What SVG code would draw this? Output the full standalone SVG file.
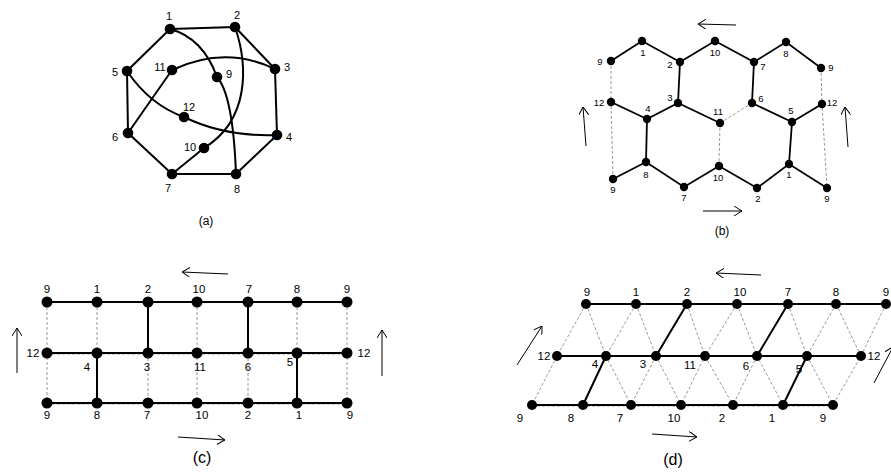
<svg xmlns="http://www.w3.org/2000/svg" width="891" height="472" viewBox="0 0 891 472">
<style>
.e{stroke:#000;stroke-width:2;fill:none;stroke-linecap:round}
.eb{stroke:#000;stroke-width:1.8;fill:none;stroke-linecap:round}
.d{stroke:#9a9a9a;stroke-width:1;fill:none;stroke-dasharray:3,2}
.ar{stroke:#000;stroke-width:1;fill:none;marker-end:url(#ah)}
circle{fill:#000}
text{font-family:"Liberation Sans",Arial,sans-serif;fill:#000;text-anchor:middle}
.ta{font-size:11px}
.tb{font-size:9.5px}
.tc{font-size:11.5px}
.cap{font-size:12px}
.cap2{font-size:16px}
</style>
<defs>
<marker id="ah" viewBox="0 0 8 10" refX="8" refY="5" markerWidth="8" markerHeight="10" markerUnits="userSpaceOnUse" orient="auto">
<path d="M0,0 L8,5 L0,10" fill="none" stroke="#000" stroke-width="1"/>
</marker>
</defs>
<rect width="891" height="472" fill="#fff"/>

<!-- ===== Panel (a) ===== -->
<g id="a-edges">
<path class="e" d="M170,29 L235,27 L275,69 L277,135 L236,174 L172,174 L128,133 L127,71 Z"/>
<path class="e" d="M170,29 Q203,38 217,77"/>
<path class="e" d="M217,77 Q233,95 236,174"/>
<path class="e" d="M235,27 C248,65 250,120 204,148"/>
<path class="e" d="M204,148 L172,174"/>
<path class="e" d="M172,70 Q225,45 275,69"/>
<path class="e" d="M172,70 L128,133"/>
<path class="e" d="M127,71 Q150,105 184,117"/>
<path class="e" d="M184,117 Q225,137 277,135"/>
</g>
<g id="a-n1"><circle cx="170" cy="29" r="5.3"/><text class="ta" x="169" y="20">1</text></g>
<g id="a-n2"><circle cx="235" cy="27" r="5.3"/><text class="ta" x="237" y="19">2</text></g>
<g id="a-n3"><circle cx="275" cy="69" r="5.3"/><text class="ta" x="287" y="71">3</text></g>
<g id="a-n4"><circle cx="277" cy="135" r="5.3"/><text class="ta" x="289" y="141">4</text></g>
<g id="a-n5"><circle cx="127" cy="71" r="5.3"/><text class="ta" x="115" y="76">5</text></g>
<g id="a-n6"><circle cx="128" cy="133" r="5.3"/><text class="ta" x="115" y="141">6</text></g>
<g id="a-n7"><circle cx="172" cy="174" r="5.3"/><text class="ta" x="168" y="192">7</text></g>
<g id="a-n8"><circle cx="236" cy="174" r="5.3"/><text class="ta" x="237" y="193">8</text></g>
<g id="a-n9"><circle cx="217" cy="77" r="5.3"/><text class="ta" x="229" y="78">9</text></g>
<g id="a-n10"><circle cx="204" cy="148" r="5.3"/><text class="ta" x="190" y="151">10</text></g>
<g id="a-n11"><circle cx="172" cy="70" r="5.3"/><text class="ta" x="160" y="71">11</text></g>
<g id="a-n12"><circle cx="184" cy="117" r="5.3"/><text class="ta" x="189" y="111">12</text></g>
<text class="cap" x="206" y="225">(a)</text>

<!-- ===== Panel (b) ===== -->
<g id="b-edges">
<path class="eb" d="M611,61 L642,41 L680,62 L715,41 L754,62 L786,42 L821,68"/>
<path class="eb" d="M680,62 L678,103"/>
<path class="eb" d="M754,62 L752,103"/>
<path class="eb" d="M611,102 L647,119 L678,103 L720,123"/>
<path class="eb" d="M752,103 L792,122 L822,104"/>
<path class="eb" d="M647,119 L646,162"/>
<path class="eb" d="M792,122 L789,164"/>
<path class="eb" d="M613,179 L646,162 L684,187 L719,166 L757,188 L789,164 L827,188"/>
<path class="d" d="M611,61 L611,102 L613,179"/>
<path class="d" d="M821,68 L822,104 L827,188"/>
<path class="d" d="M720,123 L719,166"/>
<path class="d" d="M720,123 L752,103"/>
<path class="ar" d="M736,25 L698,24"/>
<path class="ar" d="M703,211 L742,211"/>
<path class="ar" d="M586,146 L583,107"/>
<path class="ar" d="M848,147 L845,107"/>
</g>
<g id="b-t9l"><circle cx="611" cy="61" r="4.2"/><text class="tb" x="600" y="64.5">9</text></g>
<g id="b-n1"><circle cx="642" cy="41" r="4.2"/><text class="tb" x="643" y="55.5">1</text></g>
<g id="b-n2"><circle cx="680" cy="62" r="4.2"/><text class="tb" x="670" y="67.5">2</text></g>
<g id="b-n10t"><circle cx="715" cy="41" r="4.2"/><text class="tb" x="715" y="55.5">10</text></g>
<g id="b-n7"><circle cx="754" cy="62" r="4.2"/><text class="tb" x="763" y="69.5">7</text></g>
<g id="b-n8t"><circle cx="786" cy="42" r="4.2"/><text class="tb" x="786" y="56.5">8</text></g>
<g id="b-t9r"><circle cx="821" cy="68" r="4.2"/><text class="tb" x="831" y="70.5">9</text></g>
<g id="b-n12l"><circle cx="611" cy="102" r="4.2"/><text class="tb" x="599" y="105.5">12</text></g>
<g id="b-n4"><circle cx="647" cy="119" r="4.2"/><text class="tb" x="648" y="111.5">4</text></g>
<g id="b-n3"><circle cx="678" cy="103" r="4.2"/><text class="tb" x="670" y="100.5">3</text></g>
<g id="b-n11"><circle cx="720" cy="123" r="4.2"/><text class="tb" x="718" y="114.5">11</text></g>
<g id="b-n6"><circle cx="752" cy="103" r="4.2"/><text class="tb" x="761" y="101.5">6</text></g>
<g id="b-n5"><circle cx="792" cy="122" r="4.2"/><text class="tb" x="791" y="113.5">5</text></g>
<g id="b-n12r"><circle cx="822" cy="104" r="4.2"/><text class="tb" x="832" y="105.5">12</text></g>
<g id="b-b9l"><circle cx="613" cy="179" r="4.2"/><text class="tb" x="613" y="192.5">9</text></g>
<g id="b-n8"><circle cx="646" cy="162" r="4.2"/><text class="tb" x="646" y="177.5">8</text></g>
<g id="b-n7b"><circle cx="684" cy="187" r="4.2"/><text class="tb" x="684" y="200.5">7</text></g>
<g id="b-n10b"><circle cx="719" cy="166" r="4.2"/><text class="tb" x="718" y="180.5">10</text></g>
<g id="b-n2b"><circle cx="757" cy="188" r="4.2"/><text class="tb" x="758" y="201.5">2</text></g>
<g id="b-n1b"><circle cx="789" cy="164" r="4.2"/><text class="tb" x="789" y="177.5">1</text></g>
<g id="b-b9r"><circle cx="827" cy="188" r="4.2"/><text class="tb" x="827" y="201.5">9</text></g>
<text class="cap" x="722" y="235">(b)</text>

<!-- ===== Panel (c) ===== -->
<g id="c-edges">
<path class="d" d="M47,302 V403 M97,302 V353 M148,353 V403 M197,302 V403 M248,353 V403 M297,302 V353 M347,302 V403"/>
<path class="d" d="M47,354 H347 M47,404 H347"/>
<path class="e" d="M47,302 H347"/>
<path class="e" d="M47,353 H347"/>
<path class="e" d="M47,403 H347"/>
<path class="e" d="M148,302 V353 M248,302 V353 M97,353 V403 M297,353 V403"/>
<path class="ar" d="M228,274 L182,272"/>
<path class="ar" d="M178,437 L225,440"/>
<path class="ar" d="M17,373 L17,328"/>
<path class="ar" d="M382,376 L382,330"/>
</g>
<g id="c-t9l"><circle cx="47" cy="302" r="5.5"/><text class="tc" x="47" y="293">9</text></g>
<g id="c-t1"><circle cx="97" cy="302" r="5.5"/><text class="tc" x="97" y="293">1</text></g>
<g id="c-t2"><circle cx="148" cy="302" r="5.5"/><text class="tc" x="148" y="293">2</text></g>
<g id="c-t10"><circle cx="197" cy="302" r="5.5"/><text class="tc" x="199" y="293">10</text></g>
<g id="c-t7"><circle cx="248" cy="302" r="5.5"/><text class="tc" x="249" y="293">7</text></g>
<g id="c-t8"><circle cx="297" cy="302" r="5.5"/><text class="tc" x="297" y="293">8</text></g>
<g id="c-t9r"><circle cx="347" cy="302" r="5.5"/><text class="tc" x="347" y="293">9</text></g>
<g id="c-m12l"><circle cx="47" cy="353" r="5.5"/><text class="tc" x="33" y="357">12</text></g>
<g id="c-m4"><circle cx="97" cy="353" r="5.5"/><text class="tc" x="87" y="371">4</text></g>
<g id="c-m3"><circle cx="148" cy="353" r="5.5"/><text class="tc" x="147" y="371">3</text></g>
<g id="c-m11"><circle cx="197" cy="353" r="5.5"/><text class="tc" x="200" y="371">11</text></g>
<g id="c-m6"><circle cx="248" cy="353" r="5.5"/><text class="tc" x="248" y="371">6</text></g>
<g id="c-m5"><circle cx="297" cy="353" r="5.5"/><text class="tc" x="290" y="366">5</text></g>
<g id="c-m12r"><circle cx="347" cy="353" r="5.5"/><text class="tc" x="364" y="357">12</text></g>
<g id="c-b9l"><circle cx="47" cy="403" r="5.5"/><text class="tc" x="47" y="419">9</text></g>
<g id="c-b8"><circle cx="97" cy="403" r="5.5"/><text class="tc" x="97" y="419">8</text></g>
<g id="c-b7"><circle cx="148" cy="403" r="5.5"/><text class="tc" x="147" y="419">7</text></g>
<g id="c-b10"><circle cx="197" cy="403" r="5.5"/><text class="tc" x="202" y="419">10</text></g>
<g id="c-b2"><circle cx="248" cy="403" r="5.5"/><text class="tc" x="248" y="419">2</text></g>
<g id="c-b1"><circle cx="297" cy="403" r="5.5"/><text class="tc" x="299" y="419">1</text></g>
<g id="c-b9r"><circle cx="347" cy="403" r="5.5"/><text class="tc" x="350" y="419">9</text></g>
<text class="cap2" x="202" y="463">(c)</text>

<!-- ===== Panel (d) ===== -->
<g id="d-edges">
<path class="d" d="M586,304 L557,356 L532,405 M586,304 L606,356 L631,405 M636,304 L606,356 M636,304 L656,356 L681,405 M687,304 L705,356 L733,405 M737,304 L705,356 L681,405 M737,304 L757,356 L783,405 M788,304 L807,356 L833,405 M836,304 L807,356 M836,304 L861,356 L833,405 M886,304 L861,356 M656,356 L631,405 M757,356 L733,405 M606,356 L583,405 M807,356 L783,405 M687,304 L656,356 M788,304 L757,356"/>
<path class="d" d="M532,406 H833"/>
<path class="e" d="M586,304 H886"/>
<path class="e" d="M557,356 H861"/>
<path class="e" d="M532,405 H833"/>
<path class="e" d="M687,304 L656,356 M606,356 L583,405 M788,304 L757,356 M807,356 L783,405"/>
<path class="ar" d="M761,275 L716,273"/>
<path class="ar" d="M652,434 L697,437"/>
<path class="ar" d="M517,365 L542,326"/>
<path class="ar" d="M874,383 L893,347"/>
</g>
<g id="d-t9l"><circle cx="586" cy="304" r="5"/><text class="tc" x="587" y="296">9</text></g>
<g id="d-t1"><circle cx="636" cy="304" r="5"/><text class="tc" x="636" y="296">1</text></g>
<g id="d-t2"><circle cx="687" cy="304" r="5"/><text class="tc" x="687" y="296">2</text></g>
<g id="d-t10"><circle cx="737" cy="304" r="5"/><text class="tc" x="740" y="296">10</text></g>
<g id="d-t7"><circle cx="788" cy="304" r="5"/><text class="tc" x="788" y="296">7</text></g>
<g id="d-t8"><circle cx="836" cy="304" r="5"/><text class="tc" x="836" y="296">8</text></g>
<g id="d-t9r"><circle cx="886" cy="304" r="5"/><text class="tc" x="886" y="296">9</text></g>
<g id="d-m12l"><circle cx="557" cy="356" r="5"/><text class="tc" x="544" y="360">12</text></g>
<g id="d-m4"><circle cx="606" cy="356" r="5"/><text class="tc" x="595" y="368">4</text></g>
<g id="d-m3"><circle cx="656" cy="356" r="5"/><text class="tc" x="643" y="368">3</text></g>
<g id="d-m11"><circle cx="705" cy="356" r="5"/><text class="tc" x="690" y="369">11</text></g>
<g id="d-m6"><circle cx="757" cy="356" r="5"/><text class="tc" x="746" y="370">6</text></g>
<g id="d-m5"><circle cx="807" cy="356" r="5"/><text class="tc" x="799" y="373">5</text></g>
<g id="d-m12r"><circle cx="861" cy="356" r="5"/><text class="tc" x="874" y="360">12</text></g>
<g id="d-b9l"><circle cx="532" cy="405" r="5"/><text class="tc" x="520" y="422">9</text></g>
<g id="d-b8"><circle cx="583" cy="405" r="5"/><text class="tc" x="571" y="422">8</text></g>
<g id="d-b7"><circle cx="631" cy="405" r="5"/><text class="tc" x="620" y="422">7</text></g>
<g id="d-b10"><circle cx="681" cy="405" r="5"/><text class="tc" x="674" y="422">10</text></g>
<g id="d-b2"><circle cx="733" cy="405" r="5"/><text class="tc" x="722" y="422">2</text></g>
<g id="d-b1"><circle cx="783" cy="405" r="5"/><text class="tc" x="772" y="422">1</text></g>
<g id="d-b9r"><circle cx="833" cy="405" r="5"/><text class="tc" x="823" y="422">9</text></g>
<text class="cap2" x="673" y="465">(d)</text>
</svg>
